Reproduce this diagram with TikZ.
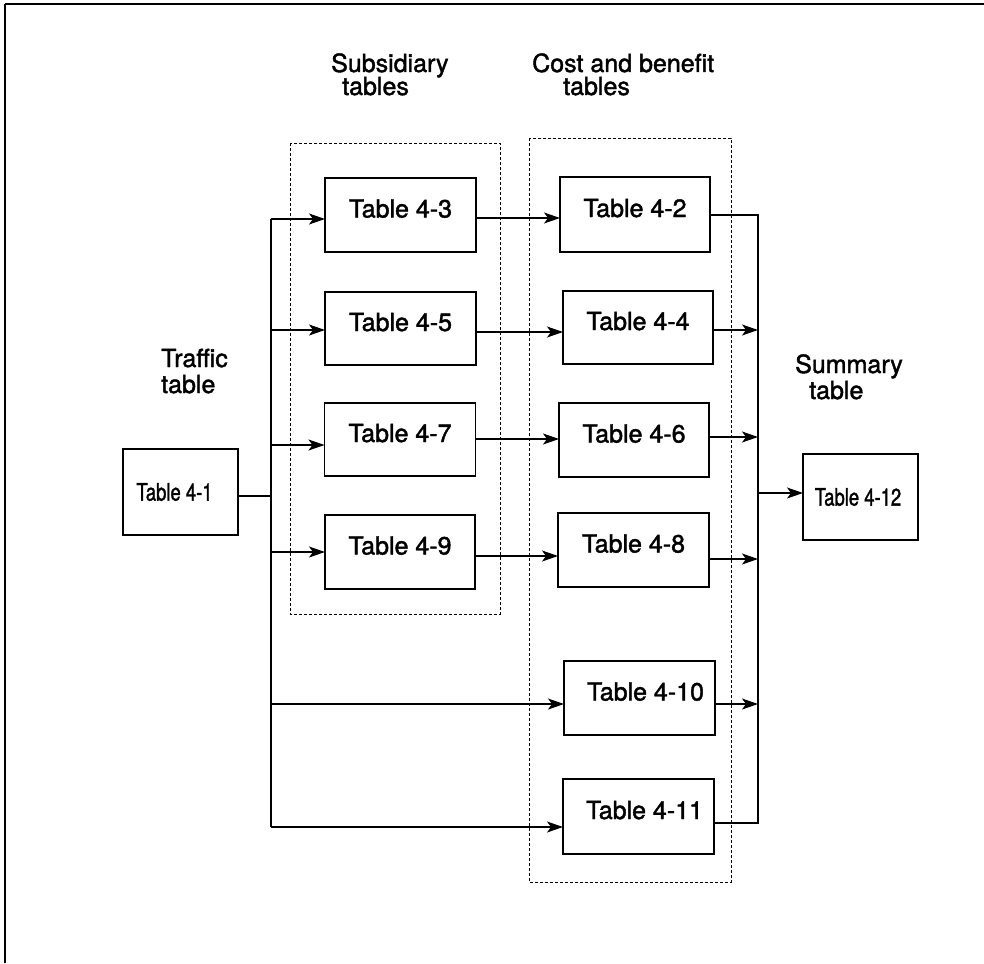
\documentclass[tikz,border=0pt]{standalone}
\usepackage{fontspec}
\setmainfont{TeX Gyre Heros}
\newfontfamily\printfont{TeX Gyre Heros}[FakeBold=1.6]
\usetikzlibrary{arrows.meta,calc}
\begin{document}
\begin{tikzpicture}[x=1pt,y=-1pt,
  tbl/.style={draw,line width=1.2pt,rectangle,inner sep=0pt,outer sep=0pt,
    text height=18pt,text depth=13pt,font=\printfont\fontsize{25}{30}\selectfont},
  tblnarrow/.style={draw,line width=1.2pt,rectangle,inner sep=0pt,outer sep=0pt,
    font=\printfont\fontsize{24}{28}\selectfont},
  grp/.style={line width=0.9pt,dash pattern=on 3pt off 2pt},
  wire/.style={line width=1.2pt},
  arr/.style={line width=1.2pt,-{Stealth[length=16pt,width=11pt,inset=4pt]}},
  lbl/.style={anchor=base west,inner sep=0pt,font=\printfont\fontsize{25}{30}\selectfont},
]
\useasboundingbox (0,0) rectangle (984,963);

% page frame
\draw[line width=2.6pt] (5,4) -- (984,4);
\draw[line width=1.5pt] (5,4) -- (5,963);

% column groups
\draw[grp] (290,143) rectangle (500,614);
\draw[grp] (529,138) rectangle (731,882);

% column headings
\node[lbl] (hs1) at (331,72) {Subsidiary};
\node[lbl] (hs2) at (342,95) {tables};
\node[lbl] (hc1) at (532,72) {Cost and benefit};
\node[lbl] (hc2) at (563,95) {tables};
\node[lbl] (ht1) at (161,367) {Traffic};
\node[lbl] (ht2) at (161,393) {table};
\node[lbl] (hm1) at (795,373) {Summary};
\node[lbl] (hm2) at (809,399) {table};

% tables
\node[tblnarrow,minimum width=115pt,minimum height=86pt] (t41) at (180.5,492)
  {\scalebox{0.77}[1]{Table 4-1}\hspace*{12pt}};
\node[tbl,minimum width=151pt,minimum height=74pt] (t43) at (400.5,215) {Table 4-3};
\node[tbl,minimum width=151pt,minimum height=73pt] (t45) at (400.5,328.5) {Table 4-5};
\node[tbl,minimum width=151pt,minimum height=73pt] (t47) at (400,439.5) {Table 4-7};
\node[tbl,minimum width=150pt,minimum height=74pt] (t49) at (400,552) {Table 4-9};
\node[tbl,minimum width=150pt,minimum height=75pt] (t42) at (635,214.5) {Table 4-2};
\node[tbl,minimum width=150pt,minimum height=73pt] (t44) at (638,327.5) {Table 4-4};
\node[tbl,minimum width=150pt,minimum height=74pt] (t46) at (634,440) {Table 4-6};
\node[tbl,minimum width=151pt,minimum height=74pt] (t48) at (633.5,550) {Table 4-8};
\node[tbl,minimum width=151pt,minimum height=74pt] (t410) at (639.5,698) {\hspace*{12pt}Table 4-10};
\node[tbl,minimum width=151pt,minimum height=75pt] (t411) at (638.5,816.5) {\hspace*{12pt}Table 4-11};
\node[tblnarrow,minimum width=115pt,minimum height=86pt] (t412) at (860.5,497)
  {\scalebox{0.77}[1]{Table 4-12}\hspace*{5pt}};

% bus positions
\coordinate (bL) at (271,0);
\coordinate (bR) at (758,0);

% connection points
\coordinate (o41) at ($(t41.east)+(0,4)$);
\coordinate (i43) at ($(t43.west)+(0,4)$);
\coordinate (i45) at ($(t45.west)+(0,1.5)$);
\coordinate (i47) at ($(t47.west)+(0,5.5)$);
\coordinate (i49) at ($(t49.west)+(0,0)$);
\coordinate (i410) at ($(t410.west)+(0,6)$);
\coordinate (i411) at ($(t411.west)+(0,10.5)$);
\coordinate (o43) at ($(t43.east)+(0,3)$);
\coordinate (o45) at ($(t45.east)+(0,3.5)$);
\coordinate (o47) at ($(t47.east)+(0,-0.5)$);
\coordinate (o49) at ($(t49.east)+(0,4)$);
\coordinate (o42) at ($(t42.east)+(0,0.5)$);
\coordinate (o44) at ($(t44.east)+(0,2.5)$);
\coordinate (o46) at ($(t46.east)+(0,-3)$);
\coordinate (o48) at ($(t48.east)+(0,9)$);
\coordinate (o410) at ($(t410.east)+(0,6)$);
\coordinate (o411) at ($(t411.east)+(0,6.5)$);
\coordinate (i412) at ($(t412.west)+(0,-4)$);

% traffic table fan-out
\draw[wire] (o41) -- (bL |- o41);
\draw[wire] (bL |- i43) -- (bL |- i411);
\draw[arr] (bL |- i43) -- (i43);
\draw[arr] (bL |- i45) -- (i45);
\draw[arr] (bL |- i47) -- (i47);
\draw[arr] (bL |- i49) -- (i49);
\draw[arr] (bL |- i410) -- (i410);
\draw[arr] (bL |- i411) -- (i411);

% subsidiary to cost and benefit
\draw[arr] (o43) -- (t42.west |- o43);
\draw[arr] (o45) -- (t44.west |- o45);
\draw[arr] (o47) -- (t46.west |- o47);
\draw[arr] (o49) -- (t48.west |- o49);

% fan-in to summary
\draw[wire] (o42) -- (bR |- o42) -- (bR |- o411) -- (o411);
\draw[arr] (o44) -- (bR |- o44);
\draw[arr] (o46) -- (bR |- o46);
\draw[arr] (o48) -- (bR |- o48);
\draw[arr] (o410) -- (bR |- o410);
\draw[arr] (bR |- i412) -- (i412);
\end{tikzpicture}
\end{document}
